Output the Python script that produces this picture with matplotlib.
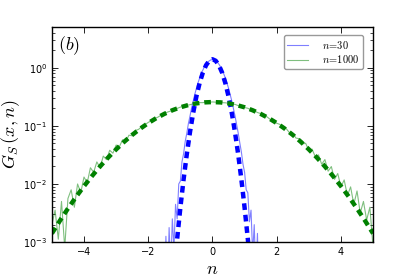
import matplotlib
matplotlib.use('Agg')
import matplotlib.pyplot as plt
import numpy as np

plt.rcParams['mathtext.fontset'] = 'cm'
plt.rcParams['font.family'] = 'DejaVu Sans'

# ── Data ──────────────────────────────────────────────────────────────────────

# dashed Gaussian fits
fit30_x = [-1.2, -1.1, -1.0, -0.9, -0.8, -0.7, -0.6, -0.5, -0.4, -0.3, -0.2, -0.1, 0.0,
           0.1, 0.2, 0.3, 0.4, 0.5, 0.6, 0.7, 0.8, 0.9, 1.0, 1.1, 1.2]
fit30_y = [2.93e-4, 1.135e-3, 3.903e-3, 0.01194, 0.03245, 0.0784, 0.1684, 0.3217,
           0.5463, 0.8246, 1.106, 1.320, 1.40,
           1.320, 1.106, 0.8246, 0.5463, 0.3217, 0.1684, 0.0784, 0.03245, 0.01194,
           3.903e-3, 1.135e-3, 2.93e-4]

fit1000_x = [-5.0, -4.75, -4.5, -4.25, -4.0, -3.75, -3.5, -3.25, -3.0, -2.75, -2.5,
             -2.25, -2.0, -1.75, -1.5, -1.25, -1.0, -0.75, -0.5, -0.25, 0.0,
             0.25, 0.5, 0.75, 1.0, 1.25, 1.5, 1.75, 2.0, 2.25, 2.5,
             2.75, 3.0, 3.25, 3.5, 3.75, 4.0, 4.25, 4.5, 4.75, 5.0]
fit1000_y = [0.001406, 0.002336, 0.00378, 0.00597, 0.00917, 0.01373, 0.02003, 0.02848,
             0.0394, 0.0532, 0.0699, 0.0895, 0.1117, 0.1358, 0.1608, 0.1856, 0.2087,
             0.2286, 0.2439, 0.2537, 0.257,
             0.2537, 0.2439, 0.2286, 0.2087, 0.1856, 0.1608, 0.1358, 0.1117, 0.0895,
             0.0699, 0.0532, 0.0394, 0.02848, 0.02003, 0.01373, 0.00917, 0.00597,
             0.00378, 0.002336, 0.001406]

# simulated histograms (log10 of G_S)
sim30_x = [-1.50, -1.45, -1.40, -1.35, -1.30, -1.25, -1.20, -1.15, -1.10, -1.05,
           -1.00, -0.95, -0.90, -0.85, -0.80, -0.75, -0.70, -0.65, -0.60, -0.55,
           -0.50, -0.45, -0.40, -0.35, -0.30, -0.25, -0.20, -0.15, -0.10, -0.05,
           0.00, 0.05, 0.10, 0.15, 0.20, 0.25, 0.30, 0.35, 0.40, 0.45,
           0.50, 0.55, 0.60, 0.65, 0.70, 0.75, 0.80, 0.85, 0.90, 0.95,
           1.00, 1.05, 1.10, 1.15, 1.20, 1.25, 1.30, 1.35, 1.40, 1.45, 1.50]
sim30_log = [-4.0, -2.9, -3.8, -2.75, -3.5, -2.6, -3.1, -2.35, -2.6, -2.0,
             -1.95, -1.62, -1.48, -1.27, -1.13, -0.96, -0.83, -0.69, -0.575, -0.455,
             -0.355, -0.258, -0.177, -0.100, -0.040, 0.018, 0.060, 0.097, 0.119, 0.136,
             0.140, 0.134, 0.121, 0.095, 0.062, 0.016, -0.037, -0.103, -0.175, -0.262,
             -0.352, -0.459, -0.569, -0.696, -0.825, -0.972, -1.12, -1.29, -1.45, -1.66,
             -1.80, -2.10, -2.15, -2.65, -2.45, -3.2, -2.7, -3.6, -2.85, -3.9, -4.2]

sim1000_x = [round(-5.0 + 0.1 * i, 1) for i in range(101)]
sim1000_log = [-2.70, -2.45, -2.95, -2.30, -3.10, -2.25, -2.10, -2.40, -2.00, -2.15,
               -1.88, -1.98, -1.72, -1.80, -1.62, -1.72, -1.52, -1.58, -1.42, -1.47,
               -1.33, -1.36, -1.24, -1.27, -1.16, -1.17, -1.08, -1.06, -1.01, -0.98,
               -0.94, -0.91, -0.875, -0.85, -0.815, -0.79, -0.762, -0.745, -0.715, -0.70,
               -0.677, -0.665, -0.645, -0.636, -0.620, -0.615, -0.600, -0.600, -0.590, -0.593,
               -0.588,
               -0.592, -0.591, -0.601, -0.603, -0.611, -0.626, -0.630, -0.651, -0.660, -0.684,
               -0.697, -0.724, -0.738, -0.770, -0.788, -0.826, -0.845, -0.890, -0.905, -0.955,
               -0.975, -1.035, -1.05, -1.12, -1.13, -1.21, -1.22, -1.31, -1.30, -1.42,
               -1.40, -1.53, -1.50, -1.66, -1.58, -1.78, -1.70, -1.92, -1.82, -2.05,
               -1.93, -2.20, -2.05, -2.35, -2.12, -2.50, -2.30, -2.62, -2.40, -3.10]

# ── Figure ────────────────────────────────────────────────────────────────────

fig = plt.figure(figsize=(4.15, 2.77), dpi=100)
ax = fig.add_axes([0.125, 0.126, 0.774, 0.776])

ax.plot(sim30_x, 10.0 ** np.array(sim30_log), color='#0000ff', lw=0.8, alpha=0.5,
        label=r'$n\!=\!30$')
ax.plot(sim1000_x, 10.0 ** np.array(sim1000_log), color='#008000', lw=0.8, alpha=0.5,
        label=r'$n\!=\!1000$')
ax.plot(fit30_x, fit30_y, color='#0000ff', lw=3.2, dashes=(1.5, 1.1))
ax.plot(fit1000_x, fit1000_y, color='#008000', lw=3.2, dashes=(1.5, 1.1))

ax.set_yscale('log')
ax.set_xlim(-5, 5)
ax.set_ylim(1e-3, 5)
ax.set_xticks([-4, -2, 0, 2, 4])
ax.set_xticklabels(['\u22124', '\u22122', '0', '2', '4'])

ax.tick_params(which='both', direction='in', top=True, right=True, labelsize=7)
ax.tick_params(which='major', length=4, width=0.6)
ax.tick_params(which='minor', length=2, width=0.5)
for spine in ax.spines.values():
    spine.set_linewidth(1.0)

ax.set_xlabel(r'$n$', fontsize=13, labelpad=2)
ax.set_ylabel(r'$G_S\,(x,n)$', fontsize=13, labelpad=1)
ax.text(0.02, 0.915, r'$(b)$', transform=ax.transAxes, fontsize=13,
        ha='left', va='center')

leg = ax.legend(loc='upper right', fontsize=7.5, handlelength=2.0,
                handletextpad=1.3, borderpad=0.35, labelspacing=0.25,
                fancybox=True, bbox_to_anchor=(0.984, 0.988))
leg.get_frame().set_edgecolor('#808080')
leg.get_frame().set_linewidth(1.0)

fig.savefig('out.png', dpi=100)
